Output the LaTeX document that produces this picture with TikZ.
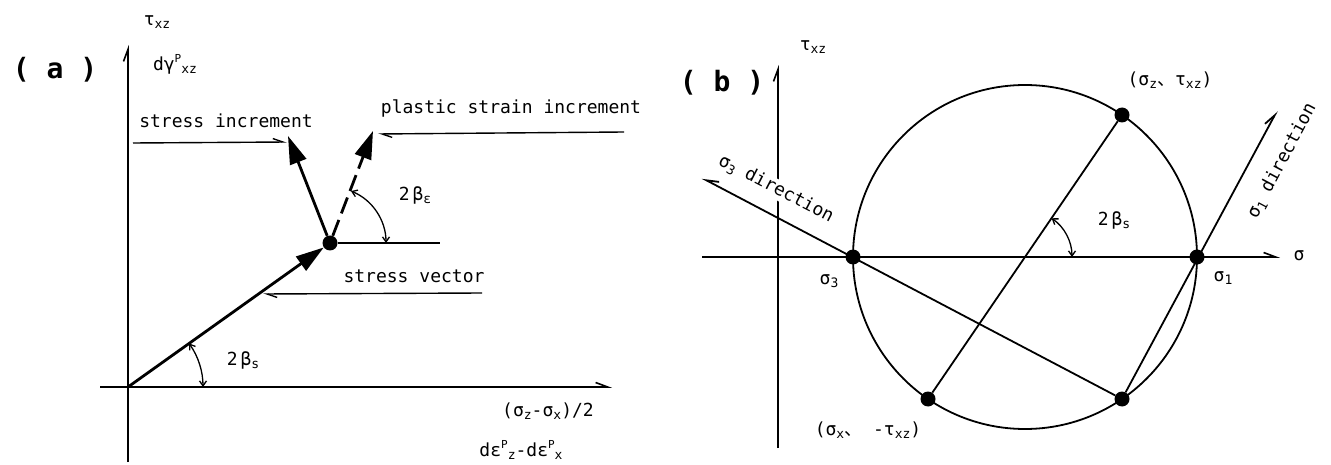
\documentclass[tikz,border=0pt]{standalone}
\usepackage{fontspec}
\setmainfont{DejaVu Sans Mono}
\newfontfamily\cjk{Noto Sans CJK JP}
\usetikzlibrary{calc}
\usetikzlibrary {arrows.meta}
\tikzset{>=Stealth}
\newcommand{\lo}[1]{\raisebox{-0.2em}{\fontsize{13}{13}\selectfont #1}}
\newcommand{\hi}[1]{\raisebox{0.45em}{\fontsize{11}{11}\selectfont #1}}

\begin{document}
\begin{tikzpicture}[x=1pt, y=-1pt,
		font=\fontsize{18}{20}\selectfont,
		axis/.style={line width=1.6pt, -{Straight Barb[left, length=12pt, width=9pt]}},
		lead/.style={line width=1.4pt, -{Straight Barb[left, length=10pt, width=7pt]}},
		vec/.style={line width=2.8pt, -{Triangle[length=28pt, width=17pt]}},
		angarc/.style={line width=1.3pt, {Straight Barb[length=5pt, width=7pt]}-{Straight Barb[length=5pt, width=7pt]}},
		dot/.style={circle, fill, inner sep=0pt, minimum size=15pt},
		mohr/.style={line width=1.8pt}]
\useasboundingbox (0,0) rectangle (1331,465);

% (a)
\coordinate (Oa) at (128,387);
\coordinate (ya0) at (128,462);
\coordinate (ya1) at (128,45);
\coordinate (xa0) at (100,387);
\coordinate (xa1) at (612,387);
\node[dot] (Pa) at (330,243) {};
\coordinate (ha) at (440,243);
\coordinate (si) at (288,136);
\coordinate (ps) at (373,131);

	\draw [axis] (ya0) -- (ya1);
	\draw [axis] (xa0) -- (xa1);
	\draw [vec] (Oa) -- (Pa);
	\draw [mohr] (Pa) -- (ha);
	\draw [vec] (Pa) -- (si);
	\draw [vec, dash pattern=on 17pt off 7pt] (Pa) -- (ps);
	\draw [angarc] ($(Pa)+(56,0)$) arc [start angle=0, end angle=-68, radius=56];
	\draw [angarc] ($(Oa)+(75,0)$) arc [start angle=0, end angle=-35.5, radius=75];

\node (la) at (55,70) {\fontsize{28}{30}\selectfont\bfseries ( a )};
\node (tza) at (157,22) {τ\lo{xz}};
\node (dga) at (175,64) {dγ\hi{P}\lo{xz}};
\node (sia) at (226,121) {stress increment};
\node (psa) at (511,108) {plastic strain increment};
\node (sva) at (414,276) {stress vector};
\node (bea) at (415,195) {2\,β\lo{ε}};
\node (bsa) at (243,360) {2\,β\lo{s}};
\node (sga) at (548,411) {(σ\lo{z}-σ\lo{x})/2};
\node (epa) at (521,450) {dε\hi{P}\lo{z}-dε\hi{P}\lo{x}};

\coordinate (sil0) at (133,143);
\coordinate (sil1) at (287,142);
\coordinate (psl0) at (624,132);
\coordinate (psl1) at (378,134);
\coordinate (svl0) at (482,293);
\coordinate (svl1) at (263,294);
	\draw [lead] (sil0) -- (sil1);
	\draw [lead] (psl0) -- (psl1);
	\draw [lead] (svl0) -- (svl1);

% (b)
\coordinate (C) at (1025,257);
\coordinate (yb0) at (778,448);
\coordinate (yb1) at (778,65);
\coordinate (xb0) at (702,257);
\coordinate (xb1) at (1280,257);
\node[dot] (S3) at (853,257) {};
\node[dot] (S1) at (1197,257) {};
\node[dot] (Zb) at (1122,115) {};
\node[dot] (Xb) at (928,399) {};
\node[dot] (Pb) at (1122,399) {};
\coordinate (s3e) at (702,178);
\coordinate (s1e) at (1277,111);

	\draw [axis] (yb0) -- (yb1);
	\draw [axis] (xb0) -- (xb1);
	\draw [mohr] (C) circle [radius=172];
	\draw [mohr] (Zb) -- (Xb);
	\draw [mohr, -{Straight Barb[right, length=12pt, width=9pt]}] (Pb) -- (s3e);
	\draw [mohr, -{Straight Barb[left, length=12pt, width=9pt]}] (Pb) -- (s1e);
	\draw [angarc] ($(C)+(47,0)$) arc [start angle=0, end angle=-55.5, radius=47];

\node (lb) at (722,83) {\fontsize{28}{30}\selectfont\bfseries ( b )};
\node (tzb) at (813,47) {τ\lo{xz}};
\node (s3d) [rotate=-27.5, fill=white, inner sep=1pt] at (776,189) {σ\lo{3} direction};
\node (s1d) [rotate=62] at (1282,161) {σ\lo{1} direction};
\node (s3l) at (829,281) {σ\lo{3}};
\node (s1l) at (1223,278) {σ\lo{1}};
\node (sgb) at (1299,256) {σ};
\node (zl) at (1170,80) {(σ\lo{z}{\cjk 、}τ\lo{xz})};
\node (xl) at (868,430) {(σ\lo{x}{\cjk 、} -τ\lo{xz})};
\node (bsb) at (1114,220) {2\,β\lo{s}};
\end{tikzpicture}
\end{document}
